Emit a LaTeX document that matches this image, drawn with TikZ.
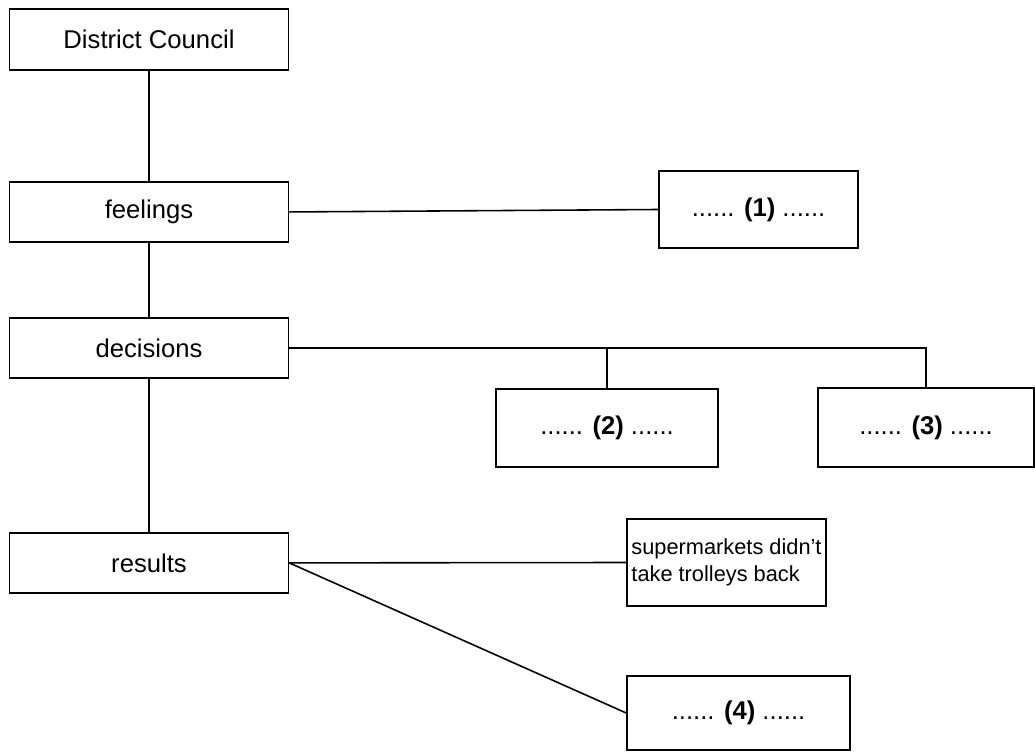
\documentclass[tikz,border=0pt]{standalone}
\usepackage{fontspec}
\setmainfont{Liberation Sans}
\usetikzlibrary{arrows,shapes}
\tikzstyle{format}=[rectangle,draw,line width=0.9pt,fill=white,inner sep=0pt,font=\fontsize{14.6}{17}\selectfont]
\tikzstyle{stage}=[format,minimum width=5.58cm,minimum height=1.2cm]
\tikzstyle{link}=[line width=0.9pt]

\begin{document}
\begin{tikzpicture}[x=0.02cm,y=0.02cm]
  \useasboundingbox (0,0) rectangle (1035,-753);
  % left column
  \node[stage,minimum height=1.22cm] (council) at (149,-39.5){District Council};
  \node[stage,below of=council,node distance=3.45cm] (feelings){feelings};
  \node[stage,below of=feelings,node distance=2.72cm] (decisions){decisions};
  \node[stage,below of=decisions,node distance=4.3cm] (results){results};
  % right boxes
  \node[format,minimum width=3.98cm,minimum height=1.54cm] (gap1) at (758.5,-209.5){...... \textbf{(1)} ......};
  \node[format,minimum width=4.44cm,minimum height=1.56cm] (gap2) at (607,-428){...... \textbf{(2)} ......};
  \node[format,minimum width=4.32cm,minimum height=1.58cm] (gap3) at (926,-427.5){...... \textbf{(3)} ......};
  \node[format,minimum width=3.98cm,minimum height=1.74cm,align=left,
        font=\fontsize{12.4}{15.5}\selectfont] (trolleys) at (726.5,-562.5){supermarkets didn't\\take trolleys back};
  \node[format,minimum width=4.46cm,minimum height=1.48cm] (gap4) at (738.5,-713){...... \textbf{(4)} ......};
  % links
  \draw[link] (council)--(feelings);
  \draw[link] (feelings)--(decisions);
  \draw[link] (decisions)--(results);
  \draw[link] (feelings.east)--(gap1.west);
  \draw[link] (decisions.east)-|(gap3.north);
  \draw[link] (gap2.north)--(gap2.north|-decisions.east);
  \draw[link] (results.east)--(trolleys.west);
  \draw[link] (results.east)--(gap4.west);
\end{tikzpicture}
\end{document}
